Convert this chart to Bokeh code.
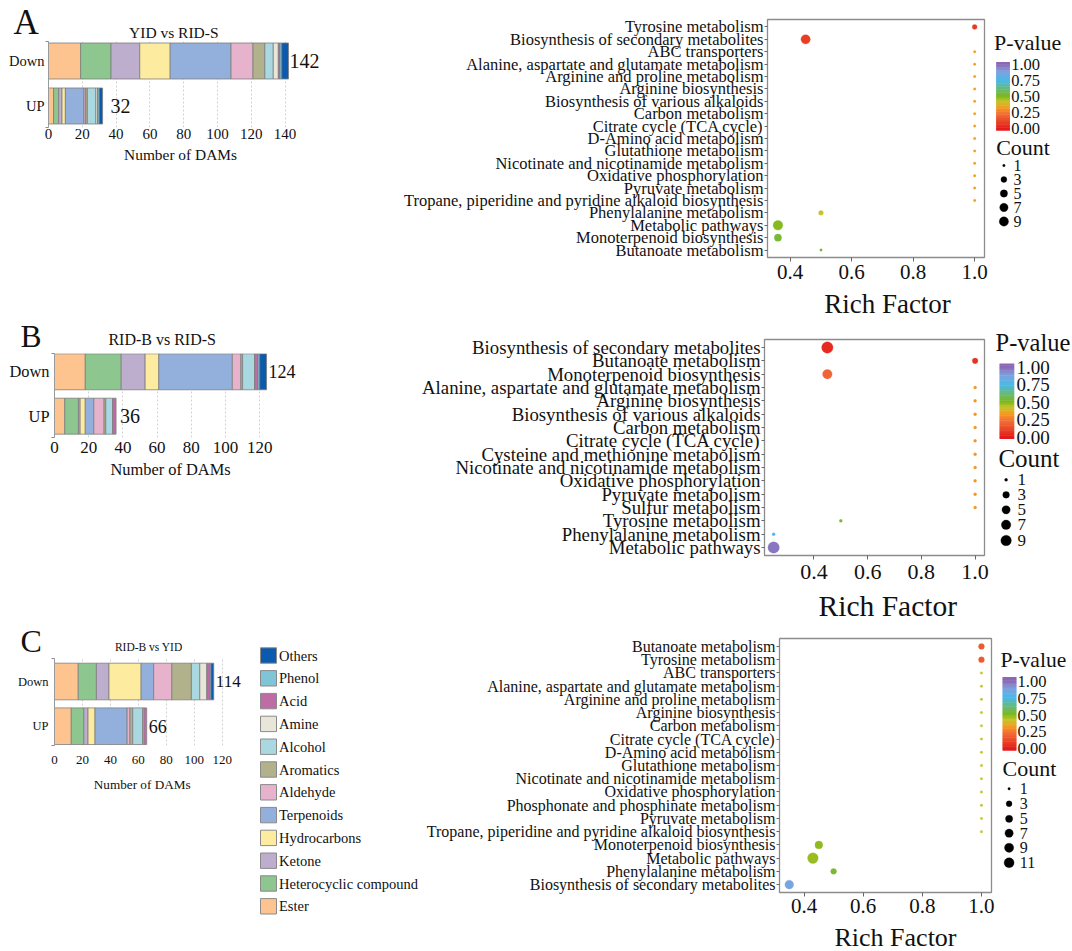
from bokeh.plotting import figure
from bokeh.models import Range1d, FixedTicker, Label, ColumnDataSource
from bokeh.layouts import row, column
from bokeh.embed import file_html
from bokeh.resources import INLINE
from bokeh.core.properties import value

FONT = "Liberation Serif"
INK = "#111111"

# ---------------- compound classes (stacking order) ----------------
CLASSES = ["Ester", "Heterocyclic compound", "Ketone", "Hydrocarbons", "Terpenoids",
           "Aldehyde", "Aromatics", "Alcohol", "Amine", "Acid", "Phenol", "Others"]
CLASS_COLORS = ["#FDC490", "#8DC68E", "#BEAECE", "#FDEB9F", "#93B0DC", "#E7B3CC",
                "#B1B18C", "#A9D8E1", "#E8E6D8", "#BF6BA6", "#7EC6D6", "#0B5AAE"]

# ---------------- bar data (Number of DAMs) ----------------
A_DOWN = [19, 18, 17, 18, 36, 13, 7, 5, 3, 1, 1, 4]
A_UP = [3, 3, 2, 2, 11, 1, 1, 5, 1, 0, 1, 2]
B_DOWN = [18, 21, 14, 8, 43, 5, 1, 7, 0, 2, 1, 4]
B_UP = [6, 8, 1, 3, 5, 6, 1, 4, 0, 2, 0, 0]
C_DOWN = [17, 13, 9, 23, 9, 13, 14, 6, 5, 2, 1, 2]
C_UP = [12, 9, 3, 5, 23, 2, 2, 7, 1, 2, 0, 0]
A_TOTALS = [32, 142]   # UP, Down
B_TOTALS = [36, 124]
C_TOTALS = [66, 114]
BAR_ROWS = ["UP", "Down"]
DAM_TICKS_A = [0, 20, 40, 60, 80, 100, 120, 140]
DAM_TICKS_B = [0, 20, 40, 60, 80, 100, 120]
DAM_TICKS_C = [0, 20, 40, 60, 80, 100, 120]

# ---------------- KEGG enrichment data ----------------
A_PATH = ["Tyrosine metabolism", "Biosynthesis of secondary metabolites", "ABC transporters",
          "Alanine, aspartate and glutamate metabolism", "Arginine and proline metabolism",
          "Arginine biosynthesis", "Biosynthesis of various alkaloids", "Carbon metabolism",
          "Citrate cycle (TCA cycle)", "D-Amino acid metabolism", "Glutathione metabolism",
          "Nicotinate and nicotinamide metabolism", "Oxidative phosphorylation",
          "Pyruvate metabolism", "Tropane, piperidine and pyridine alkaloid biosynthesis",
          "Phenylalanine metabolism", "Metabolic pathways", "Monoterpenoid biosynthesis",
          "Butanoate metabolism"]
A_RICH = [1.0, 0.45, 1.0, 1.0, 1.0, 1.0, 1.0, 1.0, 1.0, 1.0, 1.0, 1.0, 1.0, 1.0, 1.0, 0.5, 0.36, 0.36, 0.5]
A_COUNT = [2, 9, 1, 1, 1, 1, 1, 1, 1, 1, 1, 1, 1, 1, 1, 2, 10, 5, 1]
A_PVAL = [0.08, 0.09, 0.33, 0.33, 0.33, 0.33, 0.33, 0.33, 0.33, 0.33, 0.33, 0.33, 0.33, 0.33, 0.33,
          0.42, 0.49, 0.53, 0.55]

B_PATH = ["Biosynthesis of secondary metabolites", "Butanoate metabolism", "Monoterpenoid biosynthesis",
          "Alanine, aspartate and glutamate metabolism", "Arginine biosynthesis",
          "Biosynthesis of various alkaloids", "Carbon metabolism", "Citrate cycle (TCA cycle)",
          "Cysteine and methionine metabolism", "Nicotinate and nicotinamide metabolism",
          "Oxidative phosphorylation", "Pyruvate metabolism", "Sulfur metabolism",
          "Tyrosine metabolism", "Phenylalanine metabolism", "Metabolic pathways"]
B_RICH = [0.45, 1.0, 0.45, 1.0, 1.0, 1.0, 1.0, 1.0, 1.0, 1.0, 1.0, 1.0, 1.0, 0.5, 0.25, 0.25]
B_COUNT = [11, 2, 7, 1, 1, 1, 1, 1, 1, 1, 1, 1, 1, 1, 1, 11]
B_PVAL = [0.04, 0.06, 0.2, 0.31, 0.31, 0.31, 0.31, 0.31, 0.31, 0.31, 0.31, 0.31, 0.31, 0.52, 0.76, 0.97]

C_PATH = ["Butanoate metabolism", "Tyrosine metabolism", "ABC transporters",
          "Alanine, aspartate and glutamate metabolism", "Arginine and proline metabolism",
          "Arginine biosynthesis", "Carbon metabolism", "Citrate cycle (TCA cycle)",
          "D-Amino acid metabolism", "Glutathione metabolism",
          "Nicotinate and nicotinamide metabolism", "Oxidative phosphorylation",
          "Phosphonate and phosphinate metabolism", "Pyruvate metabolism",
          "Tropane, piperidine and pyridine alkaloid biosynthesis", "Monoterpenoid biosynthesis",
          "Metabolic pathways", "Phenylalanine metabolism", "Biosynthesis of secondary metabolites"]
C_RICH = [1.0, 1.0, 1.0, 1.0, 1.0, 1.0, 1.0, 1.0, 1.0, 1.0, 1.0, 1.0, 1.0, 1.0, 1.0, 0.45, 0.43, 0.5, 0.35]
C_COUNT = [3, 3, 1, 1, 1, 1, 1, 1, 1, 1, 1, 1, 1, 1, 1, 6, 13, 3, 8]
C_PVAL = [0.17, 0.17, 0.42, 0.42, 0.42, 0.42, 0.42, 0.42, 0.42, 0.42, 0.42, 0.42, 0.42, 0.42, 0.42,
          0.48, 0.47, 0.53, 0.86]

RICH_TICKS = [0.4, 0.6, 0.8, 1.0]
RICH_TICK_LABELS = ["0.4", "0.6", "0.8", "1.0"]
PVAL_TICKS = [1.0, 0.75, 0.5, 0.25, 0.0]
PVAL_TICK_LABELS = ["1.00", "0.75", "0.50", "0.25", "0.00"]
COUNT_BREAKS_A = [1, 3, 5, 7, 9]
COUNT_BREAKS_B = [1, 3, 5, 7, 9]
COUNT_BREAKS_C = [1, 3, 5, 7, 9, 11]

# ---------------- colour scale for P-value ----------------
P_STOPS = [0.0, 0.12, 0.22, 0.32, 0.42, 0.5, 0.6, 0.75, 0.88, 1.0]
P_COLORS = ["#E41A1C", "#EA4A27", "#F26B38", "#F7981F", "#C6C42A", "#7DB81E",
            "#6BBA6A", "#4AB8EA", "#7EA2DE", "#8C67B6"]


def _rgb(h):
    return tuple(int(h[i:i + 2], 16) for i in (1, 3, 5))


def pcolor(v):
    v = min(max(v, 0.0), 1.0)
    for i in range(len(P_STOPS) - 1):
        if v <= P_STOPS[i + 1]:
            t = (v - P_STOPS[i]) / (P_STOPS[i + 1] - P_STOPS[i])
            a, b = _rgb(P_COLORS[i]), _rgb(P_COLORS[i + 1])
            return "#%02x%02x%02x" % tuple(int(round(a[k] + (b[k] - a[k]) * t)) for k in range(3))
    return P_COLORS[-1]


def dsize(c, dmin, dref, cref):
    return dmin + (dref - dmin) * ((c - 1) / (cref - 1)) ** 0.5


def W(m):
    # single-child wrapper: keeps Bokeh from aligning frames of neighbouring plots
    return column(m)


def base_fig(w, h, xr, yr, mb):
    l, r, t, b = mb
    p = figure(width=w, height=h, x_range=xr, y_range=yr, toolbar_location=None,
               output_backend="svg", min_border_left=l, min_border_right=r,
               min_border_top=t, min_border_bottom=b, title=None)
    p.background_fill_color = "white"
    p.border_fill_color = "white"
    return p


def pix_fig(w, h):
    p = figure(width=w, height=h, x_range=Range1d(0, w), y_range=Range1d(h, 0),
               x_axis_location=None, y_axis_location=None, min_border=0,
               toolbar_location=None, output_backend="svg", title=None)
    p.xgrid.visible = False
    p.ygrid.visible = False
    p.outline_line_color = None
    p.background_fill_color = "white"
    p.border_fill_color = "white"
    return p


def ptext(p, xs, ys, texts, size, align="left"):
    p.text(x=xs, y=ys, text=texts, text_font=value(FONT), text_font_size=value(size),
           text_align=align, text_baseline="middle", text_color=INK)


def header(w, h, letter, lpos, lsize, title, tpos, tsize):
    p = pix_fig(w, h)
    ptext(p, [lpos[0]], [lpos[1]], [letter], lsize)
    ptext(p, [tpos[0]], [tpos[1]], [title], tsize, align="center")
    return p


def footer(w, h, text, pos, size):
    p = pix_fig(w, h)
    ptext(p, [pos[0]], [pos[1]], [text], size, align="center")
    return p


def bar_panel(w, h, mb, ppu, ylim, ticks, down, up, totals, bar_h, cfg):
    l, r, t, b = mb
    xmax = (w - l - r) / ppu
    p = base_fig(w, h, Range1d(0, xmax), Range1d(*ylim), mb)
    p.outline_line_color = None
    p.xgrid.ticker = FixedTicker(ticks=ticks)
    p.xgrid.grid_line_color = "#c4c4c4"
    p.xgrid.grid_line_dash = "2 2"
    p.xgrid.grid_line_width = 0.8
    p.ygrid.visible = False
    for yc, vals in ((0, up), (1, down)):
        lefts, rights, cols = [], [], []
        acc = 0
        for v, c in zip(vals, CLASS_COLORS):
            if v > 0:
                lefts.append(acc)
                rights.append(acc + v)
                cols.append(c)
            acc += v
        src = ColumnDataSource(dict(y=[yc] * len(lefts), left=lefts, right=rights, color=cols))
        p.hbar(y="y", left="left", right="right", height=bar_h, fill_color="color",
               line_color="#7d7d7d", line_width=0.8, source=src)
    xa = p.xaxis[0]
    xa.ticker = FixedTicker(ticks=ticks)
    xa.axis_line_color = None
    xa.major_tick_line_color = None
    xa.minor_tick_line_color = None
    xa.major_tick_out = 0
    xa.major_tick_in = 0
    xa.major_label_text_font = FONT
    xa.major_label_text_font_size = cfg["xtick"]
    xa.major_label_text_color = INK
    xa.major_label_standoff = cfg["xstand"]
    ya = p.yaxis[0]
    ya.ticker = FixedTicker(ticks=[0, 1], minor_ticks=[ylim[0] + 0.01, ylim[1] - 0.01])
    ya.major_label_overrides = {0: BAR_ROWS[0], 1: BAR_ROWS[1]}
    ya.major_tick_line_color = None
    ya.major_tick_out = 0
    ya.major_tick_in = 0
    ya.minor_tick_line_color = "#8a8a8a"
    ya.minor_tick_out = 3
    ya.minor_tick_in = 0
    ya.axis_line_color = "#9a9a9a"
    ya.major_label_text_font = FONT
    ya.major_label_text_font_size = cfg["ytick"]
    ya.major_label_text_color = INK
    ya.major_label_standoff = cfg["ystand"]
    for yc, tot, off, fs in ((0, totals[0], cfg["tot_off"][0], cfg["tot_fs"][0]),
                             (1, totals[1], cfg["tot_off"][1], cfg["tot_fs"][1])):
        p.add_layout(Label(x=tot, y=yc, text=str(tot), text_font=FONT, text_font_size=fs,
                           text_baseline="middle", text_color=INK, x_offset=off))
    return p


def dot_panel(w, h, mb, xlim, names, rich, count, pval, sz, cfg):
    n = len(names)
    ys = [n - 1 - i for i in range(n)]
    p = base_fig(w, h, Range1d(*xlim), Range1d(-0.6, n - 1 + 0.6), mb)
    p.grid.visible = False
    p.outline_line_color = "#8c8c8c"
    p.outline_line_width = 1.3
    sizes = [dsize(c, *sz) for c in count]
    cols = [pcolor(v) for v in pval]
    src = ColumnDataSource(dict(x=rich, y=ys, s=sizes, c=cols))
    p.scatter(x="x", y="y", size="s", fill_color="c", line_color="c", line_width=0.3, source=src)
    ya = p.yaxis[0]
    ya.ticker = FixedTicker(ticks=ys)
    ya.major_label_overrides = {y: nm for y, nm in zip(ys, names)}
    ya.axis_line_color = None
    ya.major_tick_out = 3
    ya.major_tick_in = 0
    ya.major_tick_line_color = "#666666"
    ya.minor_tick_line_color = None
    ya.major_label_text_font = FONT
    ya.major_label_text_font_size = cfg["ytick"]
    ya.major_label_text_color = INK
    ya.major_label_standoff = 1
    xa = p.xaxis[0]
    xa.ticker = FixedTicker(ticks=RICH_TICKS)
    xa.major_label_overrides = {v: s for v, s in zip(RICH_TICKS, RICH_TICK_LABELS)}
    xa.axis_line_color = None
    xa.major_tick_out = 4
    xa.major_tick_in = 0
    xa.major_tick_line_color = "#666666"
    xa.minor_tick_line_color = None
    xa.major_label_text_font = FONT
    xa.major_label_text_font_size = cfg["xtick"]
    xa.major_label_text_color = INK
    xa.major_label_standoff = cfg["xstand"]
    return p


def legend_panel(w, h, cfg, breaks, sz, dy=0.0):
    p = pix_fig(w, h)
    px, py, ps = cfg["ptitle"]
    ptext(p, [px], [py + dy], ["P-value"], ps)
    x0, x1, yt, yb = cfg["bar"]
    y_one, y_zero = cfg["lab_y"]
    yt, yb, y_one, y_zero = yt + dy, yb + dy, y_one + dy, y_zero + dy
    N = 90
    step = (yb - yt) / N
    tops, bots, cols = [], [], []
    for k in range(N):
        a = yt + k * step
        bb = a + step
        yc = (a + bb) / 2
        v = (y_zero - yc) / (y_zero - y_one)
        tops.append(a - 0.3)
        bots.append(bb + 0.3)
        cols.append(pcolor(v))
    p.quad(left=x0, right=x1, top=tops, bottom=bots, fill_color=cols, line_color=None)
    lab_x, lab_s = cfg["lab"]
    ly = [y_zero + (y_one - y_zero) * v for v in PVAL_TICKS]
    ptext(p, [lab_x] * len(ly), ly, PVAL_TICK_LABELS, lab_s)
    cx, cy, cs = cfg["ctitle"]
    ptext(p, [cx], [cy + dy], ["Count"], cs)
    dx, dys, tx, ts = cfg["counts"]
    dys = [d + dy for d in dys]
    p.scatter(x=[dx] * len(breaks), y=dys, size=[dsize(c, *sz) for c in breaks],
              fill_color="black", line_color="black", line_width=0.3)
    ptext(p, [tx] * len(breaks), dys, [str(c) for c in breaks], ts)
    return p


def class_legend(w, h, y0):
    p = pix_fig(w, h)
    names = list(reversed(CLASSES))
    colors = list(reversed(CLASS_COLORS))
    ys = [y0 + k * 22.8 for k in range(len(names))]
    p.quad(left=5, right=21, top=[y - 7.7 for y in ys], bottom=[y + 7.7 for y in ys],
           fill_color=colors, line_color="#8a8a8a", line_width=1)
    ptext(p, [23.5] * len(names), ys, names, "14.5px")
    return p


# ================= panel A (page rows 0..318) =================
headA = header(400, 41, "A", (13, 21.5), "35px", "YID vs RID-S", (173.3, 31.5), "15.5px")
barA = bar_panel(400, 104, (48, 70, 0, 18), 1.69, (-0.478, 1.433), DAM_TICKS_A, A_DOWN, A_UP,
                 A_TOTALS, 0.8,
                 dict(xtick="15px", xstand=1, ytick="14.5px", ystand=1,
                      tot_off=(8, 1), tot_fs=("20px", "20px")))
footA = footer(400, 173, "Number of DAMs", (180, 8.8), "15.4px")
dotA = dot_panel(590, 288, (367, 6, 19, 31), (0.326, 1.032), A_PATH, A_RICH, A_COUNT, A_PVAL,
                 (2.5, 9.3, 9), dict(ytick="16.5px", xtick="21px", xstand=3))
rfA = footer(590, 30, "Rich Factor", (487, 15), "27px")
legA = legend_panel(82, 318,
                    dict(ptitle=(3.6, 41.7, "22px"), bar=(5.7, 19.4, 61.7, 130.0),
                         lab_y=(64.0, 128.3), lab=(20.7, "16.5px"),
                         ctitle=(5.7, 146.7, "22px"),
                         counts=(13.4, [165, 179, 193, 207, 221], 22.9, "16px")),
                    COUNT_BREAKS_A, (2.5, 9.3, 9))

# ================= panel B (page rows 318..622) =================
headB = header(400, 35, "B", (20, 17.5), "31.5px", "RID-B vs RID-S", (161.7, 20.9), "16px")
barB = bar_panel(400, 107, (54, 90, 0, 23), 1.71, (-0.48, 1.412), DAM_TICKS_B, B_DOWN, B_UP,
                 B_TOTALS, 0.81,
                 dict(xtick="17px", xstand=4, ytick="16.4px", ystand=2,
                      tot_off=(4, 2), tot_fs=("20px", "18px")))
footB = footer(400, 162, "Number of DAMs", (170, 9.4), "16.4px")
dotB = dot_panel(590, 271, (364, 6, 21, 34), (0.216, 1.035), B_PATH, B_RICH, B_COUNT, B_PVAL,
                 (3.0, 10.5, 9), dict(ytick="18.8px", xtick="22px", xstand=5))
rfB = footer(590, 33, "Rich Factor", (487.3, 16.5), "29.5px")
legB = legend_panel(82, 304,
                    dict(ptitle=(5.0, 19.7, "24.5px"), bar=(9.1, 23.7, 41.3, 116.3),
                         lab_y=(44.7, 114.7), lab=(25.9, "19px"),
                         ctitle=(7.9, 136.3, "25px"),
                         counts=(15.6, [157.3, 172.3, 187.3, 202.3, 218.0], 27.0, "17px")),
                    COUNT_BREAKS_B, (3.0, 10.5, 9), dy=4.0)

# ================= panel C (page rows 622..951) =================
headC = header(255, 36, "C", (20, 18), "32px", "RID-B vs YID", (148.3, 24.1), "11.5px")
barC = bar_panel(255, 112, (54, 10, 0, 25), 1.397, (-0.432, 1.515), DAM_TICKS_C, C_DOWN, C_UP,
                 C_TOTALS, 0.82,
                 dict(xtick="13px", xstand=10, ytick="12.5px", ystand=3,
                      tot_off=(2, 2), tot_fs=("18px", "17px")))
footC = footer(255, 181, "Number of DAMs", (141.7, 13.8), "13.2px")
clsC = class_legend(165, 329, 33.0)
dotC = dot_panel(575, 300, (359, 4, 16, 30), (0.317, 1.034), C_PATH, C_RICH, C_COUNT, C_PVAL,
                 (2.5, 10.0, 11), dict(ytick="16px", xtick="21px", xstand=2))
rfC = footer(575, 29, "Rich Factor", (475, 14.5), "26px")
legC = legend_panel(77, 329,
                    dict(ptitle=(5.0, 34.3, "21.5px"), bar=(7.1, 20.9, 51.7, 125.0),
                         lab_y=(55.7, 123.3), lab=(22.1, "16.5px"),
                         ctitle=(7.0, 143.3, "22px"),
                         counts=(13.6, [163.3, 178.3, 193.3, 207.7, 222.3, 237.3], 24.3, "16px")),
                    COUNT_BREAKS_C, (2.5, 10.0, 11), dy=3.0)

rowA = row(W(column(W(headA), W(barA), W(footA))), W(column(W(dotA), W(rfA))), W(legA))
rowB = row(W(column(W(headB), W(barB), W(footB))), W(column(W(dotB), W(rfB))), W(legB))
rowC = row(W(column(W(headC), W(barC), W(footC))), W(clsC), W(column(W(dotC), W(rfC))), W(legC))
layout = column(W(rowA), W(rowB), W(rowC))

open("out.html", "w").write(file_html(layout, INLINE))
